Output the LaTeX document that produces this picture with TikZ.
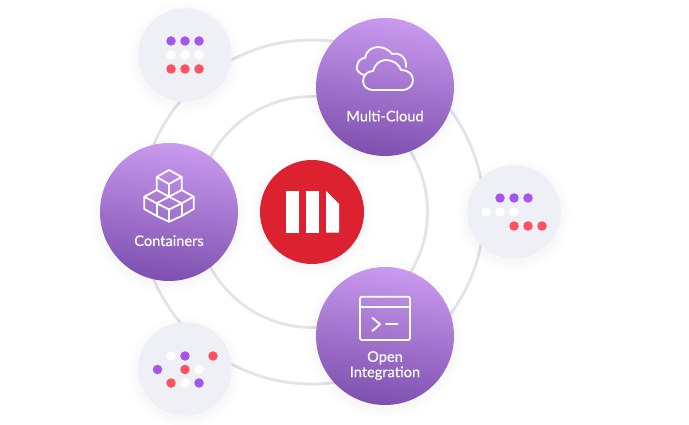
\documentclass[tikz,border=0pt]{standalone}
\usepackage{fontspec}
\setmainfont{Lato}
\definecolor{ringgray}{HTML}{E3E3EC}
\definecolor{palegray}{HTML}{EFF0F6}
\definecolor{bubbletop}{HTML}{C99AEE}
\definecolor{bubblebot}{HTML}{7E50AF}
\definecolor{dotpurple}{HTML}{A555EC}
\definecolor{dotred}{HTML}{FF5060}
\definecolor{logored}{HTML}{DC2230}
\definecolor{shadowgray}{HTML}{50506E}
\tikzset{
	ring/.style={draw=ringgray,line width=2.8pt},
	softshadow/.style={fill=shadowgray,opacity=0.005},
	bubble/.style={circle,inner sep=0pt,minimum size=138pt,top color=bubbletop,bottom color=bubblebot,shading angle=-8},
	minor/.style={circle,inner sep=0pt,minimum size=93.5pt,fill=palegray},
	badge/.style={circle,inner sep=0pt,minimum size=104pt,fill=logored},
	dot/.style={circle,inner sep=0pt,minimum size=9.5pt},
	caption/.style={text=white,font=\fontsize{14.6}{15.4}\selectfont\addfontfeatures{FakeBold=0.25},align=center},
	icon/.style={draw=white,line width=1.8pt,line join=round,line cap=round}
}
\newcommand{\glow}[2]{\foreach \g in {1,...,10} \fill[softshadow] ($(#1)+(0,3)$) circle [radius=#2+\g];}
\usetikzlibrary{calc}
\begin{document}
\begin{tikzpicture}[x=1pt,y=-1pt]
	\useasboundingbox (0,0) rectangle (689,425);
	\coordinate (O) at (312,212);
	\coordinate (C) at (385,87);
	\coordinate (K) at (169,212);
	\coordinate (T) at (385,336);
	\coordinate (P) at (185,55);
	\coordinate (Q) at (514,212);
	\coordinate (R) at (185,369);
	
	\draw[ring] (O) circle [radius=115.5];
	\draw[ring] (O) circle [radius=172];
	
	\glow{P}{47}
	\glow{Q}{47}
	\glow{R}{47}
	\glow{C}{69}
	\glow{K}{69}
	\glow{T}{69}
	\glow{O}{52}
	
	\node (small1) at (P) [minor] {};
	\node (small2) at (Q) [minor] {};
	\node (small3) at (R) [minor] {};
	\node (cloud) at (C) [bubble] {};
	\node (boxes) at (K) [bubble] {};
	\node (shell) at (T) [bubble] {};
	\node (logo) at (O) [badge] {};
	
	\foreach \x/\y/\c [count=\i] in {171/41/dotpurple,185/41/dotpurple,199/41/dotpurple,171/55/white,185/55/white,199/55/white,171/69/dotred,185/69/dotred,199/69/dotred}
		\node (p\i) at (\x,\y) [dot,fill=\c] {};
	\foreach \x/\y/\c [count=\i] in {500/198/dotpurple,514/198/dotpurple,528/198/dotpurple,486/212/white,500/212/white,514/212/white,514/226/dotred,528/226/dotred,542/226/dotred}
		\node (q\i) at (\x,\y) [dot,fill=\c] {};
	\foreach \x/\y/\c [count=\i] in {171/356/white,185/356/dotpurple,213/356/dotred,157.5/369.5/dotpurple,185/369.5/dotred,199/369.5/white,171/383/dotred,185/383/white,199/383/dotpurple}
		\node (r\i) at (\x,\y) [dot,fill=\c] {};
	
	\fill[white] (286,191) rectangle (299,232.7);
	\fill[white] (306,191) rectangle (319,232.7);
	\fill[white] (326,191) -- (339,204) -- (339,232.7) -- (326,232.7) -- cycle;
	
	\draw[icon] (365,75) .. controls (358,74) and (356,69) .. (357,66) .. controls (358,60) and (362,58) .. (365,58) .. controls (366,51) and (372,47) .. (378,47) .. controls (384,47) and (389,50) .. (392,54) .. controls (400,52) and (407,58) .. (406,67);
	\draw[icon] (373,90) .. controls (367,90) and (363,86) .. (363,81) .. controls (363,75) and (368,71) .. (373,71) .. controls (375,64) and (380,60) .. (386,60) .. controls (393,60) and (399,64) .. (401,70) .. controls (408,70) and (413,74) .. (413,80) .. controls (413,86) and (408,90) .. (403,90) -- cycle;
	
	\draw[icon] (169,170) -- (181.7,177) -- (181.7,190) -- (193.7,196.7) -- (193.7,209) -- (181.7,216) -- (169,221.7) -- (156.7,216) -- (144.3,209) -- (144.3,196.7) -- (156.7,190) -- (156.7,177) -- cycle;
	\draw[icon] (156.7,177) -- (169,184) -- (181.7,177);
	\draw[icon] (169,184) -- (169,196.7);
	\draw[icon] (156.7,190) -- (169,196.7) -- (181.7,190);
	\draw[icon] (144.3,196.7) -- (156.7,203.3) -- (169,196.7) -- (181.7,203.3) -- (193.7,196.7);
	\draw[icon] (156.7,203.3) -- (169,209.5) -- (181.7,203.3);
	\draw[icon] (156.7,203.3) -- (156.7,216);
	\draw[icon] (181.7,203.3) -- (181.7,216);
	\draw[icon] (169,209.5) -- (169,221.7);
	
	\draw[icon,rounded corners=2pt] (360,296.7) rectangle (410,340);
	\draw[icon] (360,306.7) -- (410,306.7);
	\draw[icon] (372.3,317.7) -- (380,324.3) -- (372.3,331);
	\draw[icon] (386,324) -- (397.7,324);
	
	\node (lblcloud) at (385,116) [caption] {Multi-Cloud};
	\node (lblboxes) at (169,240.7) [caption] {Containers};
	\node (lblshell) at (385,365.5) [caption] {Open\\Integration};
\end{tikzpicture}
\end{document}
